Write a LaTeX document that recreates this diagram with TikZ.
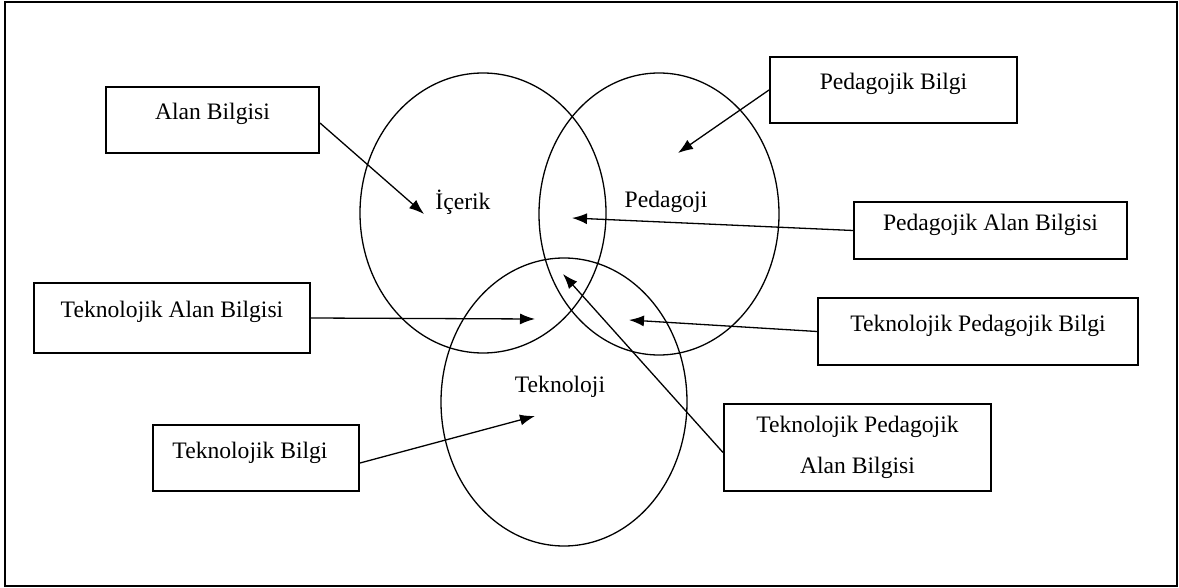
\documentclass[tikz,border=0pt]{standalone}
\usepackage{fontspec}
\setmainfont{Liberation Serif}
\usetikzlibrary{arrows.meta}
\tikzset{bilgibox/.style = {draw, line width=2pt, inner sep=0pt, align=center},
         tekbox/.style = {bilgibox, text height=0.75em, text depth=0.75em},
         kume/.style = {line width=1.3pt},
         ok/.style = {line width=1.3pt, -{Latex[length=15pt,width=11pt]}}}

\begin{document}
\begin{tikzpicture}[x=1pt, y=-1pt, font=\fontsize{23.6}{27}\selectfont]
      \useasboundingbox (0,0) rectangle (1179,588);
      \draw [line width=1.6pt] (5,2) rectangle (1177,586);

      % kumeler
      \draw [kume] (483,213) ellipse [x radius=123, y radius=140];
      \draw [kume] (659,214) ellipse [x radius=120, y radius=141];
      \draw [kume] (564,402) ellipse [x radius=123, y radius=144];
      \node (icerik) at (463,202) {İçerik};
      \node (pedagoji) at (666,202) {Pedagoji};
      \node (teknoloji) at (560,387) {Teknoloji};

      % kutular
      \node [tekbox, minimum width=213pt, minimum height=66pt] (ab) at (212.5,120) {Alan Bilgisi};
      \node [tekbox, minimum width=276pt, minimum height=70pt] (tab) at (172,318) {Teknolojik Alan Bilgisi};
      \node [tekbox, minimum width=206pt, minimum height=66pt] (tb) at (256,458) {Teknolojik Bilgi\hspace{12pt}};
      \node [tekbox, minimum width=247pt, minimum height=66pt] (pb) at (893.5,90) {Pedagojik Bilgi};
      \node [tekbox, minimum width=273pt, minimum height=57pt] (pab) at (990.5,230.5) {Pedagojik Alan Bilgisi};
      \node [tekbox, minimum width=320pt, minimum height=67pt] (tpb) at (978,331.5) {Teknolojik Pedagojik Bilgi};
      \node [bilgibox, minimum width=267pt, minimum height=87pt] (tpab) at (857.5,447.5) {Teknolojik Pedagojik\\[14pt]Alan Bilgisi};

      % ok uclari
      \coordinate (abuc) at (424,214);
      \coordinate (pbuc) at (678,153);
      \coordinate (pabuc) at (572,218);
      \coordinate (tabuc) at (535,319);
      \coordinate (tpbuc) at (629,320);
      \coordinate (tbuc) at (535,416);
      \coordinate (tpabuc) at (563,274);

      \draw [ok] ([yshift=-3pt]ab.east) -- (abuc);
      \draw [ok] (pb.west) -- (pbuc);
      \draw [ok] (pab.west) -- (pabuc);
      \draw [ok] (tab.east) -- (tabuc);
      \draw [ok] (tpb.west) -- (tpbuc);
      \draw [ok] ([yshift=-5pt]tb.east) -- (tbuc);
      \draw [ok] ([yshift=-5pt]tpab.west) -- (tpabuc);
    \end{tikzpicture}
\end{document}
